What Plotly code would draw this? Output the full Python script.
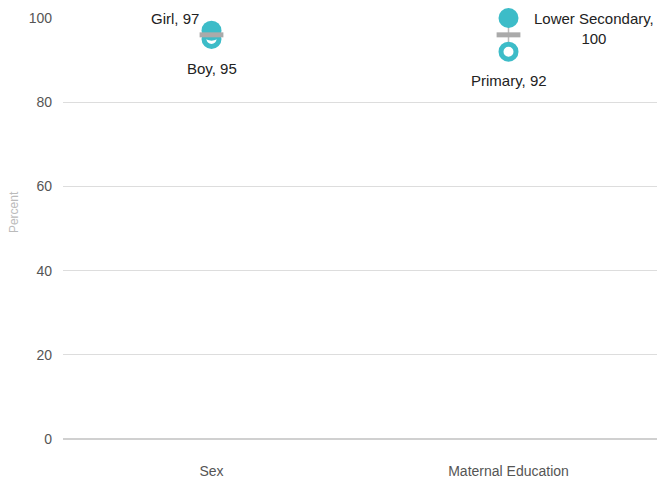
import plotly.graph_objects as go

categories = ["Sex", "Maternal Education"]
high_labels = ["Girl", "Lower Secondary,"]
high_values = [97, 100]
low_labels = ["Boy", "Primary"]
low_values = [95, 92]
total_values = [96, 96]
y_ticks = [0, 20, 40, 60, 80, 100]

teal = "#3dbcc8"
grey = "#aaaaaa"

fig = go.Figure()

# connector lines
for c, hv, lv in zip(categories, high_values, low_values):
    fig.add_trace(go.Scatter(x=[c, c], y=[lv, hv], mode="lines",
                             line=dict(color="#bbbbbb", width=1.5),
                             hoverinfo="skip", showlegend=False, cliponaxis=False))

fig.add_trace(go.Scatter(x=categories, y=low_values, mode="markers",
                         marker=dict(symbol="circle", size=15, color="white",
                                     line=dict(color=teal, width=5)),
                         showlegend=False, cliponaxis=False))
fig.add_trace(go.Scatter(x=categories, y=high_values, mode="markers",
                         marker=dict(symbol="circle", size=20, color=teal,
                                     line=dict(width=0)),
                         showlegend=False, cliponaxis=False))
fig.add_trace(go.Scatter(x=categories, y=total_values, mode="markers",
                         marker=dict(symbol="line-ew", size=17,
                                     line=dict(color=grey, width=5)),
                         showlegend=False, cliponaxis=False))

font_lbl = dict(family="Liberation Sans, Arial", size=15, color="#222222")
# high labels
fig.add_annotation(x=categories[0], y=high_values[0], text=f"{high_labels[0]}, {high_values[0]}",
                   showarrow=False, xanchor="right", yanchor="middle", xshift=-11, yshift=12, font=font_lbl)
fig.add_annotation(x=categories[1], y=high_values[1], text=f"{high_labels[1]}<br>{high_values[1]}",
                   showarrow=False, xanchor="left", yanchor="middle", xshift=23, yshift=-10,
                   align="center", font=font_lbl)
# low labels
fig.add_annotation(x=categories[0], y=low_values[0], text=f"{low_labels[0]}, {low_values[0]}",
                   showarrow=False, xanchor="center", yanchor="middle", yshift=-29, font=font_lbl)
fig.add_annotation(x=categories[1], y=low_values[1], text=f"{low_labels[1]}, {low_values[1]}",
                   showarrow=False, xanchor="center", yanchor="middle", yshift=-29, font=font_lbl)

# axis title
fig.add_annotation(xref="paper", yref="paper", x=0, y=0.539, xshift=-49, text="Percent",
                   textangle=-90, showarrow=False, xanchor="center", yanchor="middle",
                   font=dict(family="Liberation Sans, Arial", size=12, color="#bbbbbb"))

fig.update_layout(
    width=657, height=480,
    margin=dict(l=63, r=0, t=18, b=41),
    plot_bgcolor="white", paper_bgcolor="white",
    font=dict(family="Liberation Sans, Arial", size=13, color="#555555"),
    xaxis=dict(type="category", showgrid=False, showline=False, zeroline=False,
               ticks="", ticklabelstandoff=22, tickfont=dict(size=14, color="#555555"),
               range=[-0.5, 1.5], automargin=False),
    yaxis=dict(range=[0, 100], tickvals=y_ticks, showgrid=True, gridcolor="#dddddd",
               gridwidth=1, zeroline=True, zerolinecolor="#d0d0d0", zerolinewidth=2,
               showline=False, ticks="", ticklabelstandoff=10, automargin=False,
               tickfont=dict(size=14, color="#555555")),
)

fig.write_html("out.html", config={"displayModeBar": False},
               post_script="document.body.style.margin='0';document.body.style.overflow='hidden';")
